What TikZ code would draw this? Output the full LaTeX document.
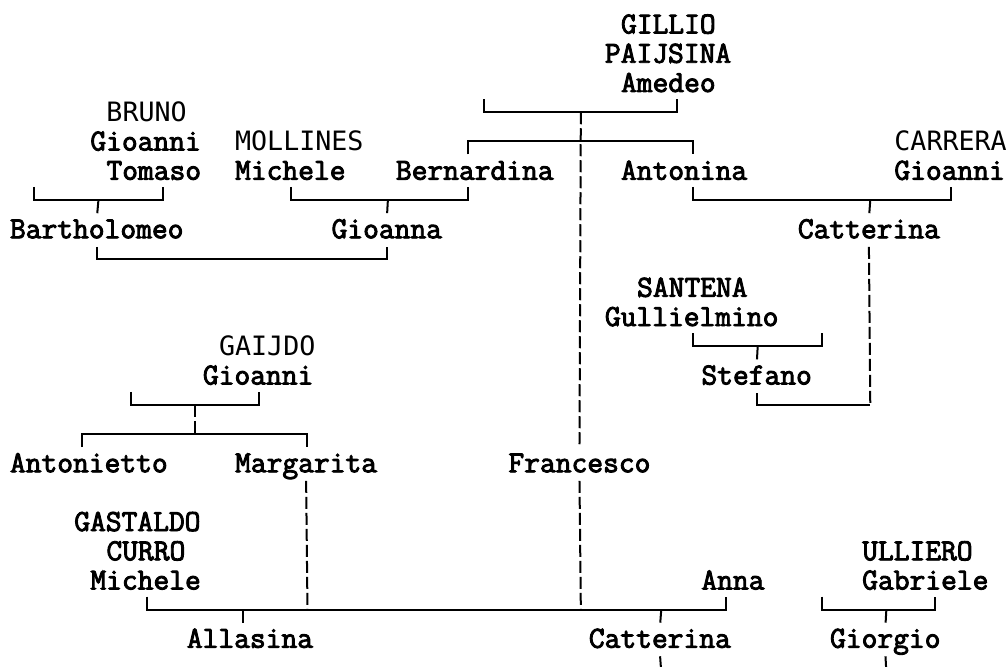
\documentclass[tikz,border=0pt]{standalone}
\usepackage{fontspec}
\newfontfamily\sansmono{DejaVu Sans Mono}
\newfontfamily\serifmono{Latin Modern Mono}[FakeBold=3]
\begin{document}
\begin{tikzpicture}[x=0.75pt,y=-0.75pt,
  person/.style={inner sep=0pt, outer sep=0pt, anchor=base west,
    text height=14.5pt, text depth=4pt,
    font=\serifmono\fontsize{22.97pt}{27pt}\selectfont},
  surname/.style={person, font=\sansmono\fontsize{20pt}{24pt}\selectfont},
  bar/.style={line width=1.5pt, line join=miter},
  dline/.style={line width=1.5pt, dash pattern=on 9pt off 3pt},
  totext/.style={shorten >=4.3pt},
  fromtext/.style={shorten <=2.4pt}]
\useasboundingbox (0,0) rectangle (1008,667);

% ---- names ----
\node[person] (gillio)   at (621.04,33.5)  {GILLIO};
\node[person] (paijsina) at (604.96,62.75) {PAIJSINA};
\node[person] (amedeo)   at (621.04,92)    {Amedeo};

\node[surname] (bruno)    at (106.48,121.25) {BRUNO};
\node[person]  (gioanniB) at (90.40,150.5)   {Gioanni};
\node[surname] (mollines) at (235.12,150.5)  {MOLLINES};
\node[surname] (carrera)  at (894.40,150.5)  {CARRERA};

\node[person] (tomaso)     at (106.48,179.75) {Tomaso};
\node[person] (micheleM)   at (235.12,179.75) {Michele};
\node[person] (bernardina) at (395.92,179.75) {Bernardina};
\node[person] (antonina)   at (621.04,179.75) {Antonina};
\node[person] (gioanniC)   at (894.40,179.75) {Gioanni};

\node[person] (bartholomeo) at (10,238.25)     {Bartholomeo};
\node[person] (gioanna)     at (331.60,238.25) {Gioanna};
\node[person] (catterinaA)  at (797.92,238.25) {Catterina};

\node[person] (santena)     at (637.12,296.75) {SANTENA};
\node[person] (gullielmino) at (604.96,326)    {Gullielmino};
\node[surname] (gaijdo)     at (219.04,355.25) {GAIJDO};
\node[person] (gioanniG)    at (202.96,384.5)  {Gioanni};
\node[person] (stefano)     at (701.44,384.5)  {Stefano};

\node[person] (antonietto) at (10,472.25)     {Antonietto};
\node[person] (margarita)  at (235.12,472.25) {Margarita};
\node[person] (francesco)  at (508.48,472.25) {Francesco};

\node[person] (gastaldo) at (74.32,531)    {GASTALDO};
\node[person] (curro)    at (106.48,560.25) {CURRO};
\node[person] (ulliero)  at (862.24,560.25) {ULLIERO};
\node[person] (micheleG) at (90.40,589.5)  {Michele};
\node[person] (anna)     at (701.44,589.5) {Anna};
\node[person] (gabriele) at (862.24,589.5) {Gabriele};

\node[person] (allasina)   at (186.88,647.75) {Allasina};
\node[person] (catterinaB) at (588.88,647.75) {Catterina};
\node[person] (giorgio)    at (830.08,647.75) {Giorgio};

% ---- junction points ----
\coordinate (a1) at (484.36,99.25);
\coordinate (a2) at (484.36,112.25);
\coordinate (a3) at (677.32,112.25);
\coordinate (a4) at (677.32,99.25);
\coordinate (aD) at (580.84,112.25);

\coordinate (s1) at (468.28,154.5);
\coordinate (s2) at (468.28,141.5);
\coordinate (s3) at (693.40,141.5);
\coordinate (s4) at (693.40,154.5);

\coordinate (b1) at (34.12,187);
\coordinate (b2) at (34.12,200);
\coordinate (b3) at (162.76,200);
\coordinate (b4) at (162.76,187);
\coordinate (bD) at (98.44,200);

\coordinate (m1) at (291.40,187);
\coordinate (m2) at (291.40,200);
\coordinate (m3) at (468.28,200);
\coordinate (m4) at (468.28,187);
\coordinate (mD) at (387.88,200);

\coordinate (c1) at (693.40,187);
\coordinate (c2) at (693.40,200);
\coordinate (c3) at (950.68,200);
\coordinate (c4) at (950.68,187);
\coordinate (cD) at (870.28,200);

\coordinate (bg) at (240,258.5);

\coordinate (g1) at (693.40,333.25);
\coordinate (g2) at (693.40,346.25);
\coordinate (g3) at (822.04,346.25);
\coordinate (g4) at (822.04,333.25);
\coordinate (gD) at (757.72,346.25);

\coordinate (st) at (870.28,404.75);

\coordinate (j1) at (130.60,391.75);
\coordinate (j2) at (130.60,404.75);
\coordinate (j3) at (259.24,404.75);
\coordinate (j4) at (259.24,391.75);
\coordinate (jD) at (194.92,404.75);

\coordinate (k1) at (82.36,447);
\coordinate (k2) at (82.36,434);
\coordinate (k3) at (307.48,434);
\coordinate (k4) at (307.48,447);
\coordinate (kU) at (194.92,434);

\coordinate (z1) at (146.68,596.5);
\coordinate (z2) at (146.68,609.5);
\coordinate (z3) at (725.56,609.5);
\coordinate (z4) at (725.56,596.5);
\coordinate (zM) at (307.48,609.5);
\coordinate (zF) at (580.84,609.5);
\coordinate (zA) at (243.16,609.5);
\coordinate (zA2) at (243.16,622.5);
\coordinate (zC) at (661.24,609.5);

\coordinate (u1) at (822.04,596.5);
\coordinate (u2) at (822.04,609.5);
\coordinate (u3) at (934.60,609.5);
\coordinate (u4) at (934.60,596.5);
\coordinate (uD) at (886.36,609.5);

\coordinate (e1) at (661.24,672);
\coordinate (e2) at (886.36,672);

% ---- connectors ----
\draw[bar] (a1) -- (a2) -- (a3) -- (a4);
\draw[bar] (s1) -- (s2) -- (s3) -- (s4);
\draw[dline, totext] (aD) -- (francesco.north);
\draw[dline, fromtext] (francesco.south) -- (zF);

\draw[bar] (b1) -- (b2) -- (b3) -- (b4);
\draw[bar, totext] (bD) -- (bartholomeo.north);
\draw[bar] (m1) -- (m2) -- (m3) -- (m4);
\draw[bar, totext] (mD) -- (gioanna.north);
\draw[bar] (c1) -- (c2) -- (c3) -- (c4);
\draw[bar, totext] (cD) -- (catterinaA.north);

\draw[bar, shorten <=2.4pt, shorten >=2.4pt] (bartholomeo.south) |- (bg) -| (gioanna.south);
\draw[dline, fromtext] (catterinaA.south) -- (st);

\draw[bar] (g1) -- (g2) -- (g3) -- (g4);
\draw[bar, totext] (gD) -- (stefano.north);
\draw[bar, fromtext] (stefano.south) |- (st);

\draw[bar] (j1) -- (j2) -- (j3) -- (j4);
\draw[dline] (jD) -- (kU);
\draw[bar] (k1) -- (k2) -- (k3) -- (k4);
\draw[dline, fromtext] (margarita.south) -- (zM);

\draw[bar] (z1) -- (z2) -- (z3) -- (z4);
\draw[bar] (zA) -- (zA2);
\draw[bar, totext] (zC) -- (catterinaB.north);
\draw[bar] (u1) -- (u2) -- (u3) -- (u4);
\draw[bar, totext] (uD) -- (giorgio.north);
\draw[dline, fromtext] (catterinaB.south) -- (e1);
\draw[dline, fromtext] (giorgio.south) -- (e2);
\end{tikzpicture}
\end{document}
